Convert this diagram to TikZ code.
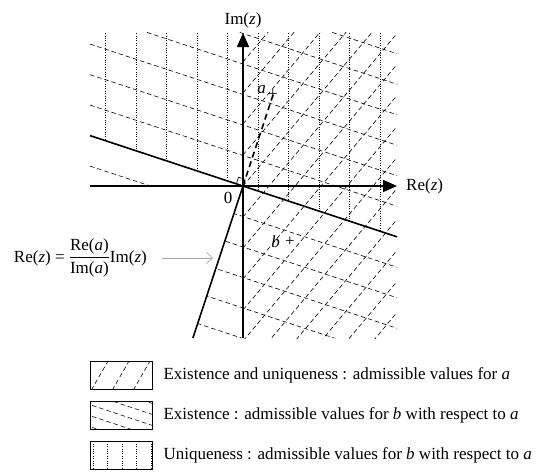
\documentclass[tikz,border=0pt]{standalone}
\usepackage{amsmath}
\usepackage{fontspec}
\setmainfont{Liberation Serif}
\usetikzlibrary{arrows.meta,positioning}

\begin{document}
\begin{tikzpicture}[
    x=1pt, y=1pt,
    lab/.style={inner sep=0pt, font=\fontsize{17}{20}\selectfont},
    axe/.style={line width=1.6pt, -{Triangle[length=14pt,width=12pt]}},
    bord/.style={line width=1.6pt},
    hatchA/.style={line width=0.6pt, dash pattern=on 4.5pt off 3pt},
    hatchU/.style={line width=0.6pt, dash pattern=on 0.8pt off 1.6pt},
    pointer/.style={draw=gray!70, line width=0.7pt, -{Straight Barb[length=6pt,width=11pt]}},
    legbox/.style={draw, line width=0.7pt, minimum width=62pt, minimum height=28pt, inner sep=0pt},
    keyA/.style={legbox, path picture={
        \foreach \k in {-4,...,4}
          \draw[hatchA] ([xshift=\k*21pt]path picture bounding box.center) ++(240:25pt) -- ++(60:50pt);}},
    keyB/.style={legbox, path picture={
        \foreach \k in {-3,...,3}
          \draw[hatchA] ([yshift=\k*11pt]path picture bounding box.center) ++(-36pt,12pt) -- ++(72pt,-24pt);}},
    keyC/.style={legbox, path picture={
        \foreach \k in {-2,...,2}
          \draw[hatchU] ([xshift=\k*14.5pt+1pt]path picture bounding box.center) ++(0,-16pt) -- ++(0,32pt);}},
    legtext/.style={lab, anchor=west}
  ]
  \useasboundingbox (-243,-286) rectangle (302,186);

  % Hachures : valeurs de a (Re > 0)
  \begin{scope}
    \clip (0,-152) rectangle (154,154);
    \foreach \k in {-12,...,6}
      \draw[hatchA] (0,\k*31) ++(230:300) -- ++(50:600);
  \end{scope}

  % Hachures : existence pour b
  \begin{scope}
    \clip (-153,154) -- (154,154) -- (154,-152) -- (-50.1,-152) -- (0,0) -- (-153,0) -- cycle;
    \foreach \k in {-7,...,7}
      \draw[hatchA] (-160,\k*30.5+52.7) -- (160,\k*30.5-52.7);
  \end{scope}

  % Hachures : unicite pour b
  \begin{scope}
    \clip (-153,50.4) -- (-153,154) -- (154,154) -- (154,-50.8) -- cycle;
    \foreach \k in {-5,...,4}
      \draw[hatchU] (\k*30.5+15,-160) -- (\k*30.5+15,160);
  \end{scope}

  % Points
  \coordinate (O) at (0,0);
  \coordinate (pa) at (30,91);
  \coordinate (pb) at (47,-56);
  \coordinate (lowend) at (-50.1,-152);
  \coordinate (perpL) at (-153,50.4);
  \coordinate (perpR) at (154,-50.8);
  \coordinate (xl) at (-153,0);
  \coordinate (xr) at (154,0);
  \coordinate (yb) at (0,-152);
  \coordinate (yt) at (0,153);

  % Droites
  \draw[bord] (lowend) -- (O);
  \draw[bord] (perpL) -- (perpR);
  \draw[bord, dash pattern=on 6pt off 4pt] (O) -- (pa);
  \draw[line width=0.6pt] (2.2,6.65) -- (-4.45,8.85) -- (-6.65,2.2);

  % Axes
  \draw[axe] (xl) -- (xr);
  \draw[axe] (yb) -- (yt);
  \node[lab, right=9pt of xr] (relab) {Re(\textit{z})};
  \node[lab, above=5pt of yt] (imlab) {Im(\textit{z})};
  \node[lab] (zero) at (-15,-12) {0};

  \node[lab] (aplus) at (pa) {+};
  \node[lab, left=2pt of aplus, yshift=5pt] (alab) {\textit{a}};
  \node[lab] (bplus) at (pb) {+};
  \node[lab, left=5pt of bplus] (blab) {\textit{b}};

  % Equation de la droite
  \node[lab, anchor=east] (eq) at (-96,-72)
    {Re(\textit{z}) = $\dfrac{\text{Re(\textit{a})}}{\text{Im(\textit{a})}}$Im(\textit{z})};
  \coordinate (tip) at (-30,-72);
  \draw[pointer] ([xshift=15pt]eq.east) -- (tip);

  % Legende
  \node[keyA] (boxA) at (-122,-189) {};
  \node[legtext, right=11pt of boxA] (txtA) {Existence and uniqueness : admissible values for \textit{a}};
  \node[keyB] (boxB) at (-122,-229) {};
  \node[legtext, right=11pt of boxB] (txtB) {Existence : admissible values for \textit{b} with respect to \textit{a}};
  \node[keyC] (boxC) at (-122,-269) {};
  \node[legtext, right=11pt of boxC] (txtC) {Uniqueness : admissible values for \textit{b} with respect to \textit{a}};

\end{tikzpicture}
\end{document}
